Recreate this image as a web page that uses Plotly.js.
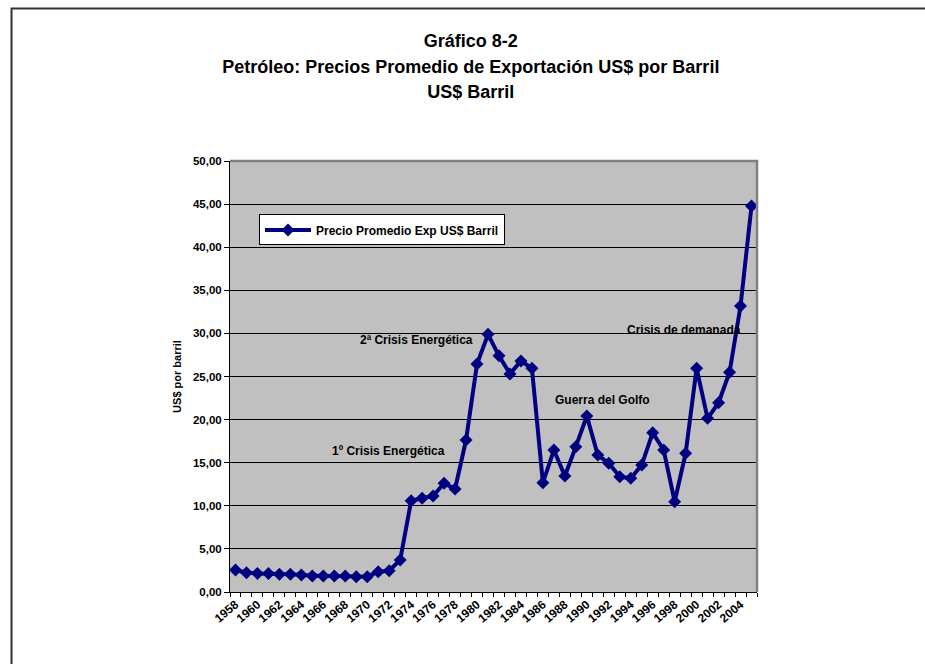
<!DOCTYPE html>
<html>
<head>
<meta charset="utf-8">
<script src="https://cdn.plot.ly/plotly-3.0.1.min.js"></script>
<style>
  html, body { margin: 0; padding: 0; background: #fff; }
  #chart { width: 925px; height: 664px; }
</style>
</head>
<body>
<div id="chart"></div>
<script>
// Average oil export price, US$ per barrel
const years = [
  1958, 1959, 1960, 1961, 1962, 1963, 1964, 1965, 1966, 1967, 1968, 1969,
  1970, 1971, 1972, 1973, 1974, 1975, 1976, 1977, 1978, 1979, 1980, 1981,
  1982, 1983, 1984, 1985, 1986, 1987, 1988, 1989, 1990, 1991, 1992, 1993,
  1994, 1995, 1996, 1997, 1998, 1999, 2000, 2001, 2002, 2003, 2004, 2005
];
const prices = [
  2.55, 2.24, 2.16, 2.16, 2.05, 2.05, 1.97, 1.86, 1.86, 1.86, 1.86, 1.78,
  1.78, 2.36, 2.47, 3.71, 10.59, 10.87, 11.14, 12.61, 11.95, 17.63, 26.45, 29.89,
  27.40, 25.30, 26.80, 25.95, 12.68, 16.47, 13.46, 16.86, 20.42, 15.89, 14.93, 13.38,
  13.19, 14.73, 18.48, 16.47, 10.48, 16.09, 25.95, 20.15, 21.96, 25.49, 33.18, 44.78
];
const tickYears = [
  1958, 1960, 1962, 1964, 1966, 1968, 1970, 1972, 1974, 1976, 1978, 1980,
  1982, 1984, 1986, 1988, 1990, 1992, 1994, 1996, 1998, 2000, 2002, 2004
];
const tickLabels = tickYears.map(String);
const seriesName = 'Precio Promedio Exp US$ Barril';
const noteTexts = ['2ª Crisis Energética', '1º Crisis Energética', 'Guerra del Golfo', 'Crisis de demanada'];
const titleLines = ['Gráfico 8-2', 'Petróleo: Precios Promedio de Exportación US$ por Barril', 'US$ Barril'];

const FONT = 'Liberation Sans, Arial, sans-serif';
const NAVY = '#000080';

const trace = {
  x: years,
  y: prices,
  type: 'scatter',
  mode: 'lines+markers',
  name: seriesName,
  line: { color: NAVY, width: 4 },
  marker: { symbol: 'diamond', size: 10, color: NAVY },
  cliponaxis: false
};

// where each note sits (year, price level)
const notePos = [[1974.5, 29.2], [1971.9, 16.4], [1991.4, 22.3], [1998.85, 30.4]];

// title lines at 18px glyphs, spaced by the larger outer font size
const titleText = titleLines.map(s => '<span style="font-size:18px">' + s + '</span>').join('<br>');

const layout = {
  width: 925,
  height: 664,
  margin: { l: 230, r: 168, t: 161, b: 72 },
  paper_bgcolor: '#ffffff',
  plot_bgcolor: '#c0c0c0',
  separators: ',.',
  font: { family: FONT, color: '#000', size: 11 },
  showlegend: true,
  title: {
    text: titleText,
    font: { family: FONT, size: 19.6, weight: 'bold', color: '#000' },
    x: 0.509, xanchor: 'center', xref: 'container',
    y: 0.929, yanchor: 'top', yref: 'container'
  },
  xaxis: {
    range: [1957.5, 2005.5],
    tickmode: 'array',
    tickvals: tickYears,
    ticktext: tickLabels,
    tickangle: -40,
    ticks: '',
    tickfont: { family: FONT, size: 12, weight: 'bold' },
    showgrid: false,
    zeroline: false,
    showline: true,
    linecolor: '#000',
    linewidth: 1,
    minor: { tick0: 1957.5, dtick: 1, ticks: 'outside', ticklen: 4, tickcolor: '#000', tickwidth: 1, showgrid: false }
  },
  yaxis: {
    range: [0, 50],
    dtick: 5,
    tick0: 0,
    tickformat: '.2f',
    ticks: 'outside',
    ticklen: 5,
    tickcolor: '#000',
    tickfont: { family: FONT, size: 11.5, weight: 'bold' },
    showgrid: true,
    gridcolor: '#000',
    gridwidth: 1,
    zeroline: false,
    showline: true,
    linecolor: '#000',
    linewidth: 1,
    title: { text: 'US$ por barril', font: { family: FONT, size: 11, weight: 'bold' }, standoff: 9 }
  },
  legend: {
    x: 0.055, y: 0.876, xanchor: 'left', yanchor: 'top',
    bgcolor: '#ffffff', bordercolor: '#000', borderwidth: 1,
    font: { family: FONT, size: 12, weight: 'bold', color: '#000' },
    itemwidth: 46
  },
  annotations: noteTexts.map((t, i) => ({
    text: t, x: notePos[i][0], y: notePos[i][1], xref: 'x', yref: 'y',
    showarrow: false, xanchor: 'center', yanchor: 'middle',
    font: { family: FONT, size: 12, weight: 'bold', color: '#000' }
  })),
  shapes: [
    // gray frame on the top and right of the plot area
    { type: 'path', xref: 'paper', yref: 'paper', path: 'M 0 1 L 1 1 L 1 0',
      line: { color: '#808080', width: 2.5 }, layer: 'above' },
    // outer chart frame
    { type: 'path', xref: 'paper', yref: 'paper', path: 'M -0.4146 -0.2 L -0.4146 1.3538 L 1.35 1.3538',
      line: { color: '#333333', width: 2 }, layer: 'above' }
  ]
};

Plotly.newPlot('chart', [trace], layout, { staticPlot: true, displayModeBar: false });
</script>
</body>
</html>
